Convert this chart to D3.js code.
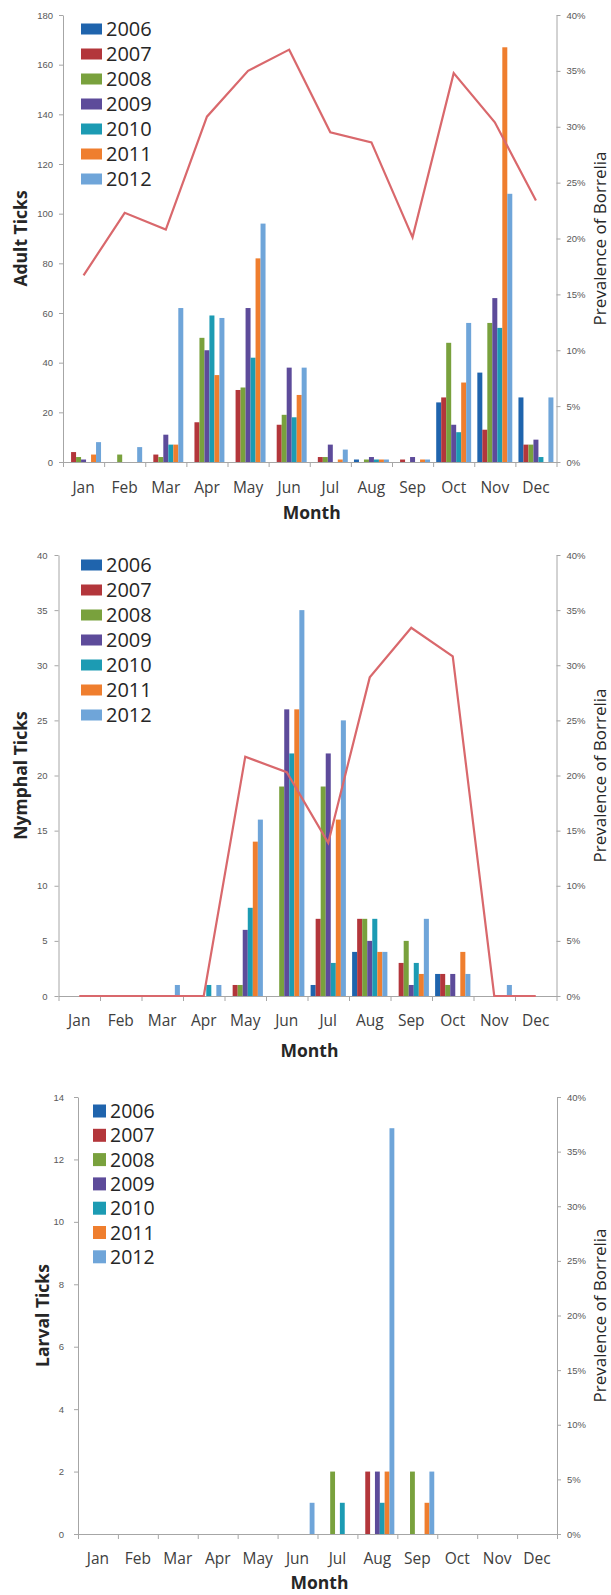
<!DOCTYPE html>
<html>
<head>
<meta charset="utf-8">
<script src="https://cdn.jsdelivr.net/npm/d3@7"></script>
<style>
  body { margin: 0; background: #fff; }
  svg { font-family: "Open Sans", sans-serif; }
  .axis path, .axis line { stroke: #a6a6a6; }
  .axis text { fill: #595959; }
</style>
</head>
<body>
<div class="chart"></div>
<script>
// DATA
const MONTHS = ["Jan", "Feb", "Mar", "Apr", "May", "Jun", "Jul", "Aug", "Sep", "Oct", "Nov", "Dec"];
const YEARS = ["2006", "2007", "2008", "2009", "2010", "2011", "2012"];

// adult ticks per year
const ADULT_2006 = [0, 0, 0, 0, 0, 0, 0, 1, 0, 24, 36, 26];
const ADULT_2007 = [4, 0, 3, 16, 29, 15, 2, 0, 1, 26, 13, 7];
const ADULT_2008 = [2, 3, 2, 50, 30, 19, 2, 1, 0, 48, 56, 7];
const ADULT_2009 = [1, 0, 11, 45, 62, 38, 7, 2, 2, 15, 66, 9];
const ADULT_2010 = [0, 0, 7, 59, 42, 18, 0, 1, 0, 12, 54, 2];
const ADULT_2011 = [3, 0, 7, 35, 82, 27, 1, 1, 1, 32, 167, 0];
const ADULT_2012 = [8, 6, 62, 58, 96, 38, 5, 1, 1, 56, 108, 26];
const ADULT_PREV = [16.7, 22.3, 20.8, 30.9, 35.0, 36.9, 29.5, 28.6, 20.1, 34.8, 30.4, 23.4];

// nymphal ticks per year
const NYMPH_2006 = [0, 0, 0, 0, 0, 0, 1, 4, 0, 2, 0, 0];
const NYMPH_2007 = [0, 0, 0, 0, 1, 0, 7, 7, 3, 2, 0, 0];
const NYMPH_2008 = [0, 0, 0, 0, 1, 19, 19, 7, 5, 1, 0, 0];
const NYMPH_2009 = [0, 0, 0, 0, 6, 26, 22, 5, 1, 2, 0, 0];
const NYMPH_2010 = [0, 0, 0, 1, 8, 22, 3, 7, 3, 0, 0, 0];
const NYMPH_2011 = [0, 0, 0, 0, 14, 26, 16, 4, 2, 4, 0, 0];
const NYMPH_2012 = [0, 0, 1, 1, 16, 35, 25, 4, 7, 2, 1, 0];
const NYMPH_PREV = [0, 0, 0, 0, 21.7, 20.3, 13.9, 28.9, 33.4, 30.8, 0, 0];

// larval ticks per year
const LARVA_2006 = [0, 0, 0, 0, 0, 0, 0, 0, 0, 0, 0, 0];
const LARVA_2007 = [0, 0, 0, 0, 0, 0, 0, 2, 0, 0, 0, 0];
const LARVA_2008 = [0, 0, 0, 0, 0, 0, 2, 0, 2, 0, 0, 0];
const LARVA_2009 = [0, 0, 0, 0, 0, 0, 0, 2, 0, 0, 0, 0];
const LARVA_2010 = [0, 0, 0, 0, 0, 0, 1, 1, 0, 0, 0, 0];
const LARVA_2011 = [0, 0, 0, 0, 0, 0, 0, 2, 1, 0, 0, 0];
const LARVA_2012 = [0, 0, 0, 0, 0, 1, 0, 13, 2, 0, 0, 0];

const COLORS = ["#1f64ad", "#b3363b", "#79a13d", "#5d4b9a", "#1c9bb3", "#ef7e2e", "#6fa5d9"];
const LINE_COLOR = "#d9686c";

const FRAME_WIDTH = 611;
const FRAME_HEIGHT = 1595;

const FRAME = d3.select(".chart")
  .append("svg")
    .attr("width", FRAME_WIDTH)
    .attr("height", FRAME_HEIGHT);

// one panel = bars + optional prevalence line, two y axes
function drawPanel(p) {
  const X0 = d3.scaleBand()
    .domain(MONTHS)
    .range([p.left, p.right])
    .paddingInner(0.15)
    .paddingOuter(0.075);

  const X1 = d3.scaleBand()
    .domain(YEARS)
    .range([0, X0.bandwidth()]);

  const X_EDGES = d3.scaleLinear().domain([0, 12]).range([p.left, p.right]);

  const Y = d3.scaleLinear().domain([0, p.yMax]).range([p.bottom, p.top]);
  const Y_R = d3.scaleLinear().domain([0, 0.4]).range([p.bottom, p.top]);

  const rows = [];
  p.series.forEach((vals, i) => {
    vals.forEach((v, j) => rows.push({year: YEARS[i], month: MONTHS[j], value: v, c: COLORS[i]}));
  });

  // bars
  FRAME.append("g").selectAll("rect")
    .data(rows.filter(d => d.value > 0))
    .enter()
    .append("rect")
      .attr("x", d => X0(d.month) + X1(d.year))
      .attr("y", d => Y(d.value))
      .attr("width", X1.bandwidth())
      .attr("height", d => p.bottom - Y(d.value))
      .attr("fill", d => d.c);

  // left axis
  FRAME.append("g")
    .attr("class", "axis")
    .attr("transform", "translate(" + p.left + ",0)")
    .call(d3.axisLeft(Y).tickValues(d3.range(0, p.yMax + 0.001, p.yStep)).tickSize(4).tickSizeOuter(0).tickPadding(p.tickPad))
    .attr("font-size", "9.5px");

  // right axis
  FRAME.append("g")
    .attr("class", "axis")
    .attr("transform", "translate(" + p.right + ",0)")
    .call(d3.axisRight(Y_R).tickValues(d3.range(0, 0.401, 0.05)).tickFormat(d3.format(".0%")).tickSize(4).tickSizeOuter(0).tickPadding(6))
    .attr("font-size", "9.5px");

  // bottom axis line with ticks at category edges
  FRAME.append("g")
    .attr("class", "axis")
    .attr("transform", "translate(0," + p.bottom + ")")
    .call(d3.axisBottom(X_EDGES).ticks(12).tickSize(5).tickSizeOuter(0).tickFormat(""));

  // month labels
  FRAME.append("g").selectAll("text")
    .data(MONTHS)
    .enter()
    .append("text")
      .attr("x", d => X0(d) + X0.bandwidth() / 2)
      .attr("y", p.monthY)
      .attr("text-anchor", "middle")
      .attr("font-size", "15.5px")
      .attr("fill", "#404040")
      .text(d => d);

  // prevalence line
  if (p.prev) {
    const LINE = d3.line()
      .x((d, i) => X0(MONTHS[i]) + X0.bandwidth() / 2)
      .y(d => Y_R(d / 100));
    FRAME.append("path")
      .datum(p.prev)
      .attr("d", LINE)
      .attr("fill", "none")
      .attr("stroke", LINE_COLOR)
      .attr("stroke-width", 2.2);
  }

  // titles
  FRAME.append("text")
    .attr("x", (p.left + p.right) / 2 + 2)
    .attr("y", p.titleY)
    .attr("text-anchor", "middle")
    .attr("font-size", "17.5px")
    .attr("font-weight", "bold")
    .attr("fill", "#262626")
    .text("Month");

  FRAME.append("text")
    .attr("transform", "translate(" + p.yTitleX + "," + ((p.top + p.bottom) / 2) + ") rotate(-90)")
    .attr("text-anchor", "middle")
    .attr("font-size", "17.5px")
    .attr("font-weight", "bold")
    .attr("fill", "#262626")
    .text(p.yTitle);

  FRAME.append("text")
    .attr("transform", "translate(606," + ((p.top + p.bottom) / 2) + ") rotate(-90)")
    .attr("text-anchor", "middle")
    .attr("font-size", "17px")
    .attr("fill", "#262626")
    .text("Prevalence of Borrelia");

  // legend
  const LEG = FRAME.append("g");
  YEARS.forEach((yr, i) => {
    const cy = p.legY + i * p.legStep;
    LEG.append("rect")
      .attr("x", p.legX)
      .attr("y", cy - p.legH / 2)
      .attr("width", p.legW)
      .attr("height", p.legH)
      .attr("fill", COLORS[i]);
    LEG.append("text")
      .attr("x", p.legX + p.legW + 4)
      .attr("y", cy)
      .attr("dy", "0.36em")
      .attr("font-size", p.legFont)
      .attr("fill", "#262626")
      .text(yr);
  });
}

drawPanel({
  left: 63, right: 556.5, top: 15, bottom: 462, yMax: 180, yStep: 20, tickPad: 6,
  series: [ADULT_2006, ADULT_2007, ADULT_2008, ADULT_2009, ADULT_2010, ADULT_2011, ADULT_2012],
  prev: ADULT_PREV, yTitle: "Adult Ticks", yTitleX: 27,
  monthY: 493, titleY: 519,
  legX: 81, legY: 29, legStep: 25, legW: 21, legH: 11, legFont: "20px"
});

drawPanel({
  left: 58.5, right: 556.5, top: 555, bottom: 996, yMax: 40, yStep: 5, tickPad: 7,
  series: [NYMPH_2006, NYMPH_2007, NYMPH_2008, NYMPH_2009, NYMPH_2010, NYMPH_2011, NYMPH_2012],
  prev: NYMPH_PREV, yTitle: "Nymphal Ticks", yTitleX: 27,
  monthY: 1026, titleY: 1057,
  legX: 81, legY: 565, legStep: 25, legW: 21, legH: 11, legFont: "20px"
});

drawPanel({
  left: 78, right: 557, top: 1097, bottom: 1534, yMax: 14, yStep: 2, tickPad: 10,
  series: [LARVA_2006, LARVA_2007, LARVA_2008, LARVA_2009, LARVA_2010, LARVA_2011, LARVA_2012],
  prev: null, yTitle: "Larval Ticks", yTitleX: 49,
  monthY: 1564, titleY: 1589,
  legX: 93, legY: 1111, legStep: 24.3, legW: 13, legH: 13, legFont: "19.5px"
});
</script>
</body>
</html>
